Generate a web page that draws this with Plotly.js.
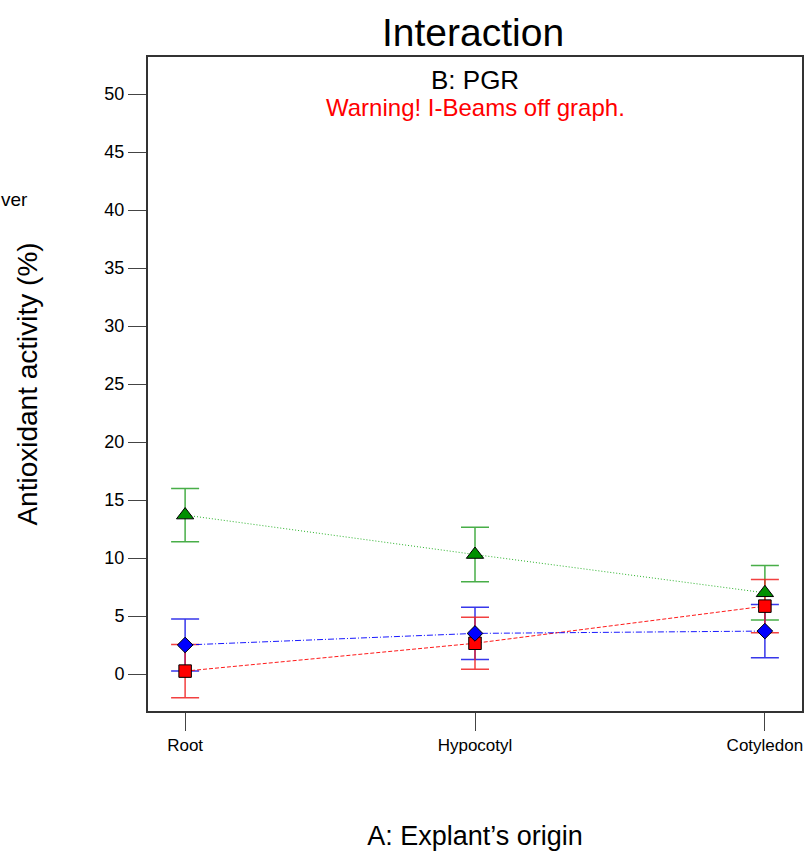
<!DOCTYPE html>
<html>
<head>
<meta charset="utf-8">
<script src="https://cdn.plot.ly/plotly-3.0.1.min.js"></script>
<style>
  html, body { margin: 0; padding: 0; background: #fff; }
  #chart { width: 811px; height: 853px; }
</style>
</head>
<body>
<div id="chart"></div>
<script>
// Explant origins on the x axis
const categories = ['Root', 'Hypocotyl', 'Cotyledon'];

// Antioxidant activity (%) for each PGR level, with I-beam half-widths
const greenValues = [13.7, 10.3, 7.0];
const greenErr = [2.3, 2.35, 2.35];
const blueValues = [2.5, 3.5, 3.7];
const blueErr = [2.25, 2.25, 2.3];
const redValues = [0.25, 2.65, 5.85];
const redErr = [2.3, 2.25, 2.3];

const yTicks = [0, 5, 10, 15, 20, 25, 30, 35, 40, 45, 50];

const FONT = 'Arial, "Liberation Sans", sans-serif';

// I-beams go in their own layer so every symbol sits on top of every beam
function beams(values, errs, barColor) {
  return {
    x: categories,
    y: values,
    type: 'scatter',
    mode: 'markers',
    marker: { size: 1, opacity: 0 },
    error_y: { type: 'data', array: errs, visible: true, color: barColor,
               thickness: 1.5, width: 14 },
    showlegend: false,
    hoverinfo: 'skip'
  };
}

function series(values, markerColor, lineColor, dash, symbol, size) {
  return {
    x: categories,
    y: values,
    type: 'scatter',
    mode: 'lines+markers',
    line: { color: lineColor, width: 1, dash: dash },
    marker: { symbol: symbol, size: size, color: markerColor,
              line: { color: '#000', width: 1 } },
    showlegend: false,
    hoverinfo: 'x+y'
  };
}

const traces = [
  beams(greenValues, greenErr, 'rgba(40,160,40,0.85)'),
  beams(blueValues, blueErr, 'rgba(20,20,230,0.85)'),
  beams(redValues, redErr, 'rgba(240,30,30,0.85)'),
  series(greenValues, '#009000', 'rgba(20,170,20,0.9)', '1px,2px', 'triangle-up', 15),
  series(redValues, '#ff0000', 'rgba(255,0,0,0.9)', '4px,2px', 'square', 12.5),
  series(blueValues, '#0000ff', 'rgba(0,0,255,0.9)', '6px,2px,1px,2px', 'diamond', 12)
];

const layout = {
  width: 811,
  height: 853,
  margin: { l: 148, r: 9, t: 57, b: 142 },
  paper_bgcolor: '#fff',
  plot_bgcolor: '#fff',
  font: { family: FONT, color: '#000' },
  title: {
    text: 'Interaction',
    font: { family: FONT, size: 39, color: '#000' },
    x: 0.497, xref: 'paper', xanchor: 'center',
    y: 1 - 32 / 853, yref: 'container', yanchor: 'middle'
  },
  xaxis: {
    type: 'category',
    range: [-0.128, 2.128],
    showgrid: false,
    zeroline: false,
    showline: true,
    mirror: true,
    linecolor: '#333',
    linewidth: 2,
    ticks: 'outside',
    ticklen: 18,
    tickwidth: 1,
    tickcolor: '#444',
    tickfont: { family: FONT, size: 17, color: '#000' },
    title: { text: 'A: Explant\u2019s origin', font: { family: FONT, size: 27, color: '#000' }, standoff: 72 },
    automargin: false
  },
  yaxis: {
    range: [-3.19, 53.19],
    tickvals: yTicks,
    ticktext: yTicks.map(String),
    showgrid: false,
    zeroline: false,
    showline: true,
    mirror: true,
    linecolor: '#333',
    linewidth: 2,
    ticks: 'outside',
    ticklen: 18,
    tickwidth: 1,
    tickcolor: '#444',
    tickfont: { family: FONT, size: 18, color: '#000' },
    title: { text: 'Antioxidant activity (%)', font: { family: FONT, size: 28, color: '#000' }, standoff: 59 },
    automargin: false
  },
  annotations: [
    {
      text: 'B: PGR', xref: 'paper', yref: 'paper', x: 0.5, y: (711 - 80) / 654,
      xanchor: 'center', yanchor: 'middle', showarrow: false,
      font: { family: FONT, size: 26, color: '#000' }
    },
    {
      text: 'Warning! I-Beams off graph.', xref: 'paper', yref: 'paper', x: 0.5, y: (711 - 107) / 654,
      xanchor: 'center', yanchor: 'middle', showarrow: false,
      font: { family: FONT, size: 24, color: '#ff0000' }
    },
    {
      text: 'ver', xref: 'paper', yref: 'paper', x: (-1 - 148) / 654, y: (711 - 200) / 654,
      xanchor: 'left', yanchor: 'middle', showarrow: false,
      font: { family: FONT, size: 19, color: '#000' }
    }
  ]
};

Plotly.newPlot('chart', traces, layout, { displayModeBar: false, staticPlot: true });
</script>
</body>
</html>
